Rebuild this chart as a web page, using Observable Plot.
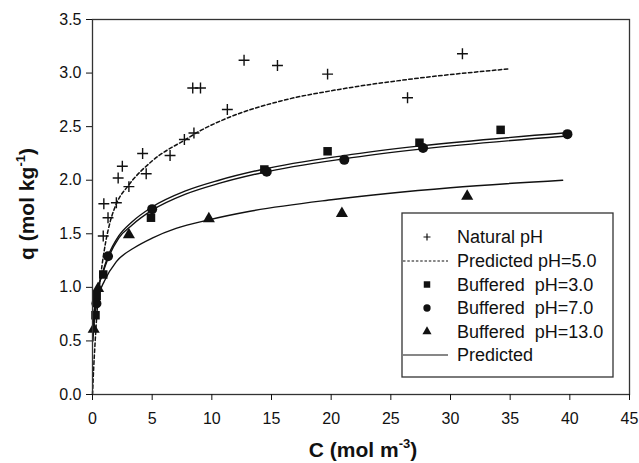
<!DOCTYPE html>
<html>
<head>
<meta charset="utf-8">
<script src="https://cdn.jsdelivr.net/npm/d3@7"></script>
<script src="https://cdn.jsdelivr.net/npm/@observablehq/plot@0.6"></script>
<style>
  html, body { margin: 0; padding: 0; background: #fff; }
  #chart { width: 639px; height: 463px; }
</style>
</head>
<body>
<div id="chart"></div>
<script>
// ---- Data ----
const xTicks = [0, 5, 10, 15, 20, 25, 30, 35, 40, 45];
const yTicks = [0, 0.5, 1.0, 1.5, 2.0, 2.5, 3.0, 3.5];

// Natural pH (+)
const natC = [0.9, 0.95, 1.3, 2.0, 2.15, 2.5, 3.05, 4.2, 4.5, 6.5, 7.7, 8.5, 8.4, 9.05, 11.3, 12.7, 15.5, 19.7, 26.4, 31.0];
const natQ = [1.48, 1.78, 1.65, 1.79, 2.02, 2.13, 1.94, 2.25, 2.06, 2.23, 2.38, 2.44, 2.86, 2.86, 2.66, 3.12, 3.07, 2.99, 2.77, 3.18];

// Buffered pH=3.0 (squares)
const ph3C = [0.25, 0.35, 0.9, 4.9, 14.4, 19.7, 27.4, 34.2];
const ph3Q = [0.74, 0.92, 1.12, 1.65, 2.10, 2.27, 2.35, 2.47];

// Buffered pH=7.0 (circles)
const ph7C = [0.33, 1.3, 5.0, 14.6, 21.1, 27.7, 39.8];
const ph7Q = [0.85, 1.29, 1.73, 2.08, 2.19, 2.30, 2.43];

// Buffered pH=13.0 (triangles)
const ph13C = [0.1, 0.47, 3.05, 9.75, 20.9, 31.4];
const ph13Q = [0.61, 0.99, 1.49, 1.64, 1.69, 1.85];

// Predicted pH=5.0 (dashed)
const pred5C = [0, 0.1, 0.2, 0.4, 0.7, 1.1, 1.5, 2.0, 3.0, 5.0, 7.8, 9.0, 11.3, 15.8, 20.8, 26.4, 35.0];
const pred5Q = [0, 0.25, 0.45, 0.8, 1.12, 1.42, 1.62, 1.78, 1.95, 2.18, 2.38, 2.46, 2.58, 2.74, 2.85, 2.94, 3.04];

// Predicted (solid) – pH 3.0 and pH 7.0 (close pair)
const predAC = [0.02, 0.1, 0.3, 0.8, 1.3, 2.2, 3.3, 5.0, 7.8, 10.6, 14.2, 21.1, 27.5, 39.5];
const predAQ = [0.5, 0.7, 0.9, 1.12, 1.29, 1.48, 1.61, 1.75, 1.9, 2.0, 2.1, 2.23, 2.32, 2.44];
const predBC = [0.02, 0.1, 0.3, 0.8, 1.3, 2.2, 3.3, 5.0, 7.8, 10.6, 14.2, 21.1, 27.5, 39.5];
const predBQ = [0.5, 0.7, 0.9, 1.11, 1.27, 1.46, 1.58, 1.72, 1.87, 1.97, 2.07, 2.2, 2.29, 2.41];

// Predicted (solid) – pH 13.0
const pred13C = [0.05, 0.2, 0.5, 1.0, 2.0, 3.5, 5.0, 7.0, 9.75, 13.2, 20.2, 30.0, 39.4];
const pred13Q = [0.55, 0.74, 0.92, 1.06, 1.24, 1.37, 1.46, 1.55, 1.63, 1.71, 1.82, 1.93, 2.0];

const legendLabels = ["Natural pH", "Predicted pH=5.0", "Buffered\u00a0 pH=3.0", "Buffered\u00a0 pH=7.0", "Buffered\u00a0 pH=13.0", "Predicted"];

// ---- Build tables ----
const pts = (cs, qs) => cs.map((c, i) => ({c, q: qs[i]}));
const nat = pts(natC, natQ);
const ph3 = pts(ph3C, ph3Q);
const ph7 = pts(ph7C, ph7Q);
const ph13 = pts(ph13C, ph13Q);
const p5 = pts(pred5C, pred5Q);
const pA = pts(predAC, predAQ);
const pB = pts(predBC, predBQ);
const p13 = pts(pred13C, pred13Q);

const ink = "#111";
const font = "'Liberation Sans', Arial, Helvetica, sans-serif";

const svg = Plot.plot({
  width: 639,
  height: 463,
  marginLeft: 92,
  marginRight: 10,
  marginTop: 19,
  marginBottom: 69,
  style: {fontFamily: font, fontSize: "16px", color: ink, background: "#fff"},
  x: {domain: [0, 45]},
  y: {domain: [0, 3.5]},
  marks: [
    Plot.line(p5, {x: "c", y: "q", curve: "monotone-x", stroke: ink, strokeWidth: 1.5, strokeDasharray: "3.5,2.5"}),
    Plot.line(pA, {x: "c", y: "q", curve: "monotone-x", stroke: ink, strokeWidth: 1.4}),
    Plot.line(pB, {x: "c", y: "q", curve: "monotone-x", stroke: ink, strokeWidth: 1.4}),
    Plot.line(p13, {x: "c", y: "q", curve: "monotone-x", stroke: ink, strokeWidth: 1.4}),
    Plot.dot(nat, {x: "c", y: "q", symbol: "plus", r: 3.6, stroke: ink, strokeWidth: 1.4}),
    Plot.dot(ph3, {x: "c", y: "q", symbol: "square", r: 4.8, fill: ink, stroke: "none"}),
    Plot.dot(ph7, {x: "c", y: "q", symbol: "circle", r: 5, fill: ink, stroke: "none"}),
    Plot.dot(ph13, {x: "c", y: "q", symbol: "triangle", r: 4.5, fill: ink, stroke: "none"}),
    Plot.frame({stroke: "#333", strokeWidth: 1.3}),
    Plot.axisX({ticks: xTicks, tickSize: 6, tickPadding: 12, label: null, tickFormat: d3.format("d")}),
    Plot.axisY({ticks: yTicks, tickSize: 6, tickPadding: 5, label: null, tickFormat: d3.format(".1f")})
  ]
});

document.getElementById("chart").appendChild(svg);

const s = d3.select(svg);

// Axis titles
const xt = s.append("text")
  .attr("x", 363).attr("y", 457)
  .attr("text-anchor", "middle")
  .attr("font-family", font).attr("font-weight", "bold").attr("font-size", 21).attr("fill", ink);
xt.append("tspan").text("C (mol m");
xt.append("tspan").attr("dy", -9).attr("font-size", 13).text("-3");
xt.append("tspan").attr("dy", 9).text(")");

const yt = s.append("text")
  .attr("transform", "translate(34,204) rotate(-90)")
  .attr("text-anchor", "middle")
  .attr("font-family", font).attr("font-weight", "bold").attr("font-size", 21).attr("fill", ink);
yt.append("tspan").text("q (mol kg");
yt.append("tspan").attr("dy", -9).attr("font-size", 13).text("-1");
yt.append("tspan").attr("dy", 9).text(")");

// Legend
const lg = s.append("g").attr("font-family", font).attr("font-size", 18).attr("fill", ink);
lg.append("rect").attr("x", 402).attr("y", 213).attr("width", 211).attr("height", 164)
  .attr("fill", "#fff").attr("stroke", "#333").attr("stroke-width", 1.3);
const rowY = [237, 261, 284.5, 308, 331.5, 355];
const sx = 427;
legendLabels.forEach((t, i) => {
  lg.append("text").attr("x", 457).attr("y", rowY[i]).attr("dy", "0.36em")
    .attr("text-anchor", "start").text(t);
});
// symbols
lg.append("path").attr("d", d3.symbol(d3.symbolPlus, 18)()).attr("transform", `translate(${sx},${rowY[0]})`)
  .attr("fill", "none").attr("stroke", ink).attr("stroke-width", 1.2);
lg.append("line").attr("x1", 403).attr("x2", 448).attr("y1", rowY[1]).attr("y2", rowY[1])
  .attr("stroke", ink).attr("stroke-width", 1.2).attr("stroke-dasharray", "2.5,1.8");
lg.append("path").attr("d", d3.symbol(d3.symbolSquare, 42)()).attr("transform", `translate(${sx},${rowY[2]})`).attr("fill", ink);
lg.append("path").attr("d", d3.symbol(d3.symbolCircle, 42)()).attr("transform", `translate(${sx},${rowY[3]})`).attr("fill", ink);
lg.append("path").attr("d", d3.symbol(d3.symbolTriangle, 36)()).attr("transform", `translate(${sx},${rowY[4]})`).attr("fill", ink);
lg.append("line").attr("x1", 403).attr("x2", 448).attr("y1", rowY[5]).attr("y2", rowY[5])
  .attr("stroke", ink).attr("stroke-width", 1.2);
</script>
</body>
</html>
